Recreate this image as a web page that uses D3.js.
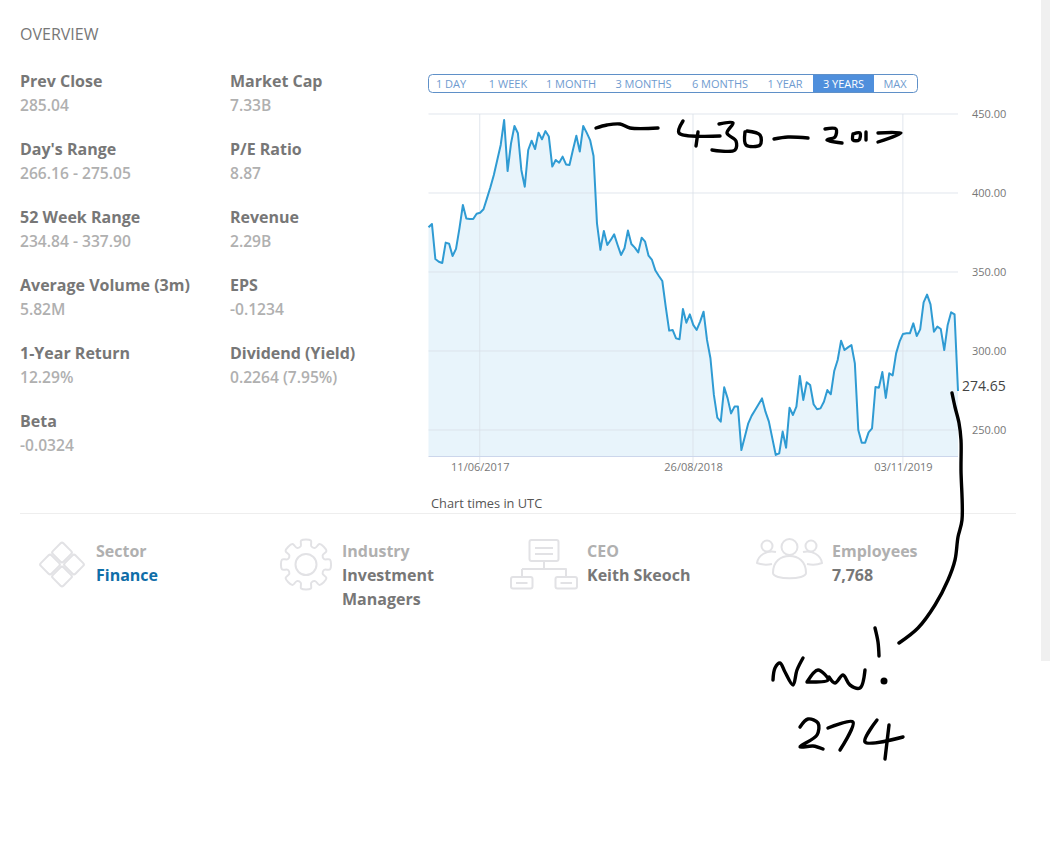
<!DOCTYPE html>
<html>
<head>
<meta charset="utf-8">
<script src="https://cdn.jsdelivr.net/npm/d3@7"></script>
<style>
  html, body { margin: 0; padding: 0; background: #fff; overflow: hidden; }
  text { font-family: "Open Sans", sans-serif; }
  .stat-label { font-size: 16px; font-weight: 700; fill: #777; }
  .stat-value { font-size: 15.6px; font-weight: 600; fill: #b0b0b0; }
  .icon { fill: none; stroke: #e2e2e5; stroke-width: 2; stroke-linejoin: round; }
  .ink { fill: none; stroke: #000; stroke-width: 3.4; stroke-linecap: round; stroke-linejoin: round; }
  .axis path { display: none; }
  .axis line { display: none; }
  .axis text { font-family: "Open Sans", sans-serif; font-size: 11px; fill: #777; }
</style>
</head>
<body>
<div id="chart"></div>
<script>
// weekly closes, 3 years up to 25/02/2020
const prices = [
  378.3, 380.4, 358.2, 356.5, 355.7, 368.6, 367.9, 360.1, 364.6, 377.6, 392.4, 383.8, 383.5, 383.5, 386.9, 387.5,
  389.7, 396.6, 403.6, 411.4, 420.9, 430.4, 446.2, 413.9, 431.4, 442.4, 437.8, 414.6, 404, 427.2, 433.1, 427.8,
  438.2, 434, 439.2, 435.7, 416.7, 420.9, 419.2, 423, 418.1, 417.7, 427.2, 436.3, 426.2, 442.4, 438.2, 433.5,
  423.4, 380.8, 364, 376, 367.1, 370.3, 373.8, 367.1, 360.8, 365, 376.2, 367.7, 365.4, 362.4, 371.7, 369.2,
  360.3, 357.6, 350.9, 347.5, 344.3, 328, 312.9, 313.3, 308, 307.4, 326.6, 317.9, 323.2, 316.5, 313.3,
  318.6, 324.9, 307, 295.4, 272.2, 257.8, 255.3, 277, 270, 260.5, 264.8, 264.8, 237.3, 245.8, 254.2, 259.1,
  262.7, 266.3, 270, 261.6, 255.3, 244.7, 234.2, 235.2, 249, 238.8, 264.1, 259.5, 264.8, 284.2, 269, 280.2,
  278.5, 266.3, 263.1, 263.7, 267.9, 275.3, 272.6, 287.3, 294.3, 306.5, 300.6, 302.3, 303.8, 292.2, 250, 242,
  242, 248.5, 251, 277.2, 276.8, 286.7, 270.3, 285.9, 284.6, 298.5, 305.9, 310.8, 311.2, 311.2, 317.5, 309.5,
  313.7, 330.8, 335.7, 329.5, 312.2, 315.4, 313.9, 300.6, 316.5, 324.5, 323.2, 274.65
];
const startDate = new Date(Date.UTC(2017, 1, 25));
const endDate = new Date(Date.UTC(2020, 1, 25));
const dateTicks = [new Date(Date.UTC(2017, 5, 11)), new Date(Date.UTC(2018, 7, 26)), new Date(Date.UTC(2019, 10, 3))];
const priceTicks = [250, 300, 350, 400, 450];
const lastPrice = 274.65;

const statColumns = [
  [["Prev Close", "285.04"], ["Day's Range", "266.16 - 275.05"], ["52 Week Range", "234.84 - 337.90"],
   ["Average Volume (3m)", "5.82M"], ["1-Year Return", "12.29%"], ["Beta", "-0.0324"]],
  [["Market Cap", "7.33B"], ["P/E Ratio", "8.87"], ["Revenue", "2.29B"],
   ["EPS", "-0.1234"], ["Dividend (Yield)", "0.2264 (7.95%)"]]
];
const rangeLabels = ["1 DAY", "1 WEEK", "1 MONTH", "3 MONTHS", "6 MONTHS", "1 YEAR", "3 YEARS", "MAX"];
const rangeCentres = [451, 508, 571, 643.5, 720, 785, 843.5, 895];
const profile = [
  {x: 96, label: "Sector", lines: ["Finance"], color: "#0f6ea8"},
  {x: 342, label: "Industry", lines: ["Investment", "Managers"], color: "#777"},
  {x: 587, label: "CEO", lines: ["Keith Skeoch"], color: "#777"},
  {x: 832, label: "Employees", lines: ["7,768"], color: "#777"}
];

// the hand drawn scribbles on top of the screenshot, in page pixels
const inkStrokes = [
  [[596,128],[607,125],[620,124],[630,128],[658,128]],
  [[683,121],[679,133],[720,136]], [[698,132],[696,146]],
  [[719,124],[733,123],[727,133],[736,141],[735,150],[712,150]],
  [[745,132],[746,145],[760,145],[760,135],[747,131]],
  [[774,139],[788,137],[808,138]],
  [[825,129],[836,129],[835,137],[827,140],[842,143]],
  [[853,134],[860,133],[859,140],[853,140],[853,134]],
  [[866,132],[866,140]],
  [[878,133],[901,133],[878,142]],
  [[952,393],[955,407],[959,423],[961,440],[961,470],[962,520],[958,537],[955,560],[948,580],[935,605],[918,628],[899,643]],
  [[773,680],[775,668],[780,663],[785,672],[793,685],[797,670],[803,658]],
  [[807,682],[818,670],[828,680],[807,682]],
  [[829,677],[835,683],[843,675],[850,685],[860,688],[865,670]],
  [[875,628],[878,642],[879,656]],
  [[800,727],[808,719],[818,723],[817,735],[800,747],[813,746],[823,749]],
  [[828,728],[853,722],[840,750]],
  [[877,720],[865,742],[903,737]], [[889,725],[885,759]]
];

const width = 1050, height = 854;
const margin = {left: 428.5, right: 958, top: 114, axisBottom: 456.5};

const svg = d3.select("#chart").append("svg")
    .attr("width", width)
    .attr("height", height)
    .style("display", "block");

// scrollbar strip on the right
svg.append("rect").attr("x", 1041).attr("y", 0).attr("width", 9).attr("height", 661).attr("fill", "#f0f0f0");

svg.append("text").attr("x", 20).attr("y", 39.5).attr("font-size", 16).attr("fill", "#777").text("OVERVIEW");

// key stats
statColumns.forEach((col, c) => {
  const g = svg.append("g").attr("transform", `translate(${c == 0 ? 20 : 230},0)`);
  col.forEach((d, i) => {
    g.append("text").attr("class", "stat-label").attr("y", 87 + i * 68).text(d[0]);
    g.append("text").attr("class", "stat-value").attr("y", 111 + i * 68).text(d[1]);
  });
});

// range buttons
const buttons = svg.append("g");
buttons.append("rect").attr("x", 813).attr("y", 74.5).attr("width", 61).attr("height", 18).attr("fill", "#4f8fdc");
buttons.append("rect").attr("x", 428.5).attr("y", 74.5).attr("width", 489).attr("height", 18).attr("rx", 4)
    .attr("fill", "none").attr("stroke", "#5f90c8");
buttons.selectAll("text").data(rangeLabels).join("text")
    .attr("x", (d, i) => rangeCentres[i])
    .attr("y", 87.5)
    .attr("text-anchor", "middle")
    .attr("font-size", 11)
    .attr("fill", d => d == "3 YEARS" ? "#fff" : "#6f9bcf")
    .text(d => d);

// scales
const y = d3.scaleLinear().domain([250, 450]).range([430, margin.top]);
const x = d3.scaleTime().domain([startDate, endDate]).range([margin.left, margin.right]);
const baseValue = y.invert(margin.axisBottom);

const points = prices.map((p, i) => ({
  date: new Date(+startDate + (endDate - startDate) * i / (prices.length - 1)),
  price: p
}));

svg.append("path").datum(points)
    .attr("fill", "#e8f4fb")
    .attr("d", d3.area().x(d => x(d.date)).y0(y(baseValue)).y1(d => y(d.price)));

// grid lines
svg.append("g").selectAll("line").data(priceTicks).join("line")
    .attr("x1", margin.left).attr("x2", margin.right)
    .attr("y1", d => y(d)).attr("y2", d => y(d))
    .attr("stroke", "#d9e0e8").attr("stroke-opacity", 0.8);
svg.append("g").selectAll("line").data(dateTicks).join("line")
    .attr("x1", d => x(d)).attr("x2", d => x(d))
    .attr("y1", margin.top).attr("y2", margin.axisBottom + 8)
    .attr("stroke", "#d9e0e8").attr("stroke-opacity", 0.8);
svg.append("line")
    .attr("x1", margin.left).attr("x2", margin.right)
    .attr("y1", margin.axisBottom).attr("y2", margin.axisBottom)
    .attr("stroke", "#ccd6eb");

svg.append("path").datum(points)
    .attr("fill", "none")
    .attr("stroke", "#2f9bd3")
    .attr("stroke-width", 2)
    .attr("stroke-linejoin", "round")
    .attr("d", d3.line().x(d => x(d.date)).y(d => y(d.price)));

// axes
svg.append("g").attr("class", "axis")
    .attr("transform", `translate(972,0)`)
    .call(d3.axisRight(y).tickValues(priceTicks).tickFormat(d3.format(".2f")).tickSize(0).tickPadding(0));
svg.append("g").attr("class", "axis")
    .attr("transform", `translate(0,${margin.axisBottom})`)
    .call(d3.axisBottom(x).tickValues(dateTicks).tickFormat(d3.utcFormat("%d/%m/%Y")).tickSize(0).tickPadding(7));

svg.append("text").attr("x", 962).attr("y", y(lastPrice) - 0.5)
    .attr("font-size", 14).attr("fill", "#444").text(lastPrice.toFixed(2));

svg.append("text").attr("x", 431).attr("y", 508).attr("font-size", 12.8).attr("fill", "#555").text("Chart times in UTC");

svg.append("line").attr("x1", 20).attr("x2", 1016).attr("y1", 513.5).attr("y2", 513.5).attr("stroke", "#eee");

// company profile row
profile.forEach(d => {
  svg.append("text").attr("class", "stat-label").attr("x", d.x).attr("y", 557)
      .style("fill", "#b0b0b0").text(d.label);
  d.lines.forEach((t, i) => {
    svg.append("text").attr("class", "stat-label").attr("x", d.x).attr("y", 581 + i * 24)
        .style("fill", d.color).text(t);
  });
});

// icons
const icons = svg.append("g").attr("class", "icon");
[[62, 552.5], [50, 564.5], [74, 564.5], [62, 576.5]].forEach(c => {
  icons.append("rect").attr("x", c[0] - 7.5).attr("y", c[1] - 7.5).attr("width", 15).attr("height", 15).attr("rx", 2)
      .attr("transform", `rotate(45 ${c[0]} ${c[1]})`);
});

const gear = [];
d3.range(8).forEach(k => {
  const a = k * Math.PI / 4 - Math.PI / 2;
  [[-0.28, 19], [-0.2, 24.5], [0.2, 24.5], [0.28, 19]].forEach(p => {
    gear.push([306 + p[1] * Math.cos(a + p[0]), 564.5 + p[1] * Math.sin(a + p[0])]);
  });
});
icons.append("path").attr("d", d3.line().curve(d3.curveCatmullRomClosed)(gear));
icons.append("circle").attr("cx", 306).attr("cy", 564.5).attr("r", 10.5);

icons.append("rect").attr("x", 529.5).attr("y", 540).attr("width", 29).attr("height", 21).attr("rx", 2);
icons.append("path").attr("d", "M535,548H553M535,554H553M544,561V569M522,569H566V577M522,569V577");
[511, 555.5].forEach(bx => {
  icons.append("rect").attr("x", bx).attr("y", 577).attr("width", 21.5).attr("height", 11.5).attr("rx", 2);
  icons.append("path").attr("d", `M${bx + 5},583H${bx + 16.5}`);
});

icons.append("circle").attr("cx", 789.5).attr("cy", 547).attr("r", 8);
icons.append("circle").attr("cx", 767).attr("cy", 546).attr("r", 5.5);
icons.append("circle").attr("cx", 811).attr("cy", 546).attr("r", 5.5);
icons.append("path").attr("d", "M773,573C773,561 781,556 789.5,556C798,556 806,561 806,573C806,580 773,580 773,573Z");
icons.append("path").attr("d", "M776,552C767,550 758,555 757,563C762,565 767,565 772,564");
icons.append("path").attr("d", "M803,552C812,550 821,555 822,563C817,565 812,565 807,564");

// scribbles
const inkLine = d3.line().curve(d3.curveCatmullRom.alpha(0.5));
svg.append("g").selectAll("path").data(inkStrokes).join("path")
    .attr("class", "ink")
    .attr("d", inkLine);
svg.append("circle").attr("cx", 884).attr("cy", 681).attr("r", 3.5).attr("fill", "#000");
</script>
</body>
</html>
